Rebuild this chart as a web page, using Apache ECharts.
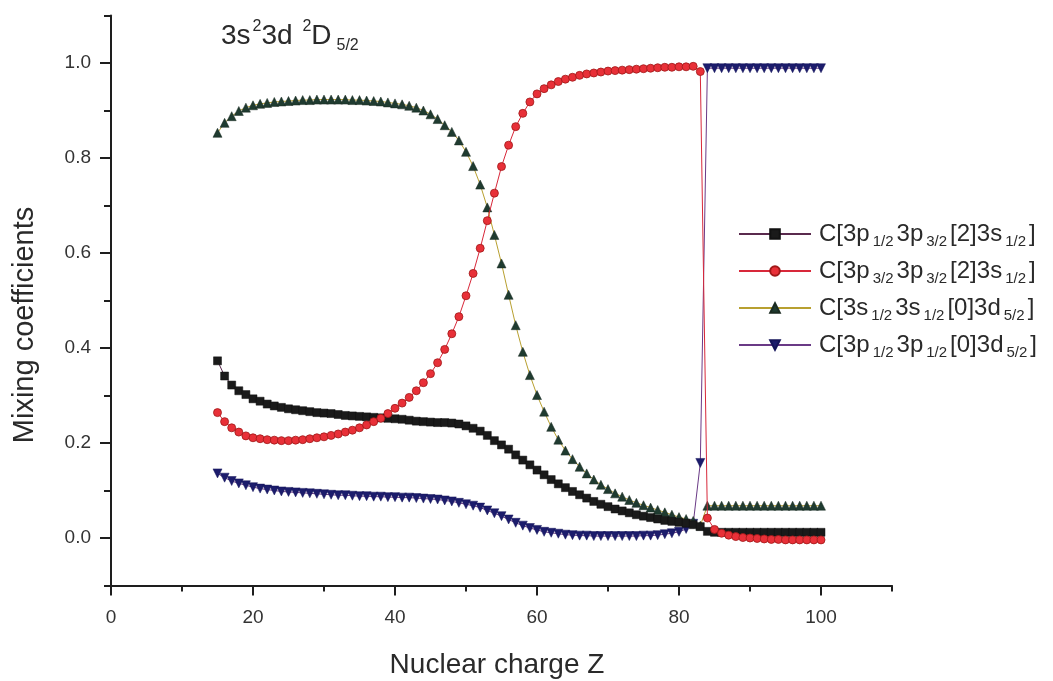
<!DOCTYPE html>
<html>
<head>
<meta charset="utf-8">
<script src="https://cdn.jsdelivr.net/npm/echarts@6/dist/echarts.min.js"></script>
<style>html,body{margin:0;padding:0;background:#fff;}#c{width:1053px;height:681px;}</style>
</head>
<body>
<div id="c"></div>
<script>
const Z = [15,16,17,18,19,20,21,22,23,24,25,26,27,28,29,30,31,32,33,34,35,36,37,38,39,40,41,42,43,44,45,46,47,48,49,50,51,52,53,54,55,56,57,58,59,60,61,62,63,64,65,66,67,68,69,70,71,72,73,74,75,76,77,78,79,80,81,82,83,84,85,86,87,88,89,90,91,92,93,94,95,96,97,98,99,100];

const sq = [0.373,0.341,0.322,0.310,0.302,0.293,0.288,0.282,0.278,0.275,0.272,0.270,0.268,0.266,0.264,0.263,0.262,0.260,0.258,0.257,0.256,0.255,0.254,0.253,0.252,0.251,0.250,0.248,0.246,0.245,0.244,0.243,0.243,0.242,0.240,0.236,0.231,0.225,0.216,0.205,0.196,0.187,0.175,0.164,0.154,0.143,0.133,0.123,0.114,0.106,0.098,0.091,0.084,0.077,0.071,0.066,0.061,0.057,0.053,0.049,0.046,0.043,0.040,0.037,0.035,0.033,0.031,0.028,0.024,0.014,0.012,0.012,0.012,0.012,0.012,0.012,0.012,0.012,0.012,0.012,0.012,0.012,0.012,0.012,0.012,0.012];

const circ = [0.264,0.245,0.232,0.223,0.215,0.211,0.209,0.207,0.206,0.205,0.205,0.206,0.207,0.209,0.211,0.213,0.216,0.219,0.223,0.227,0.232,0.238,0.245,0.252,0.262,0.273,0.284,0.296,0.310,0.327,0.346,0.369,0.397,0.430,0.466,0.510,0.557,0.610,0.668,0.726,0.782,0.827,0.866,0.894,0.918,0.935,0.946,0.954,0.961,0.966,0.970,0.974,0.977,0.979,0.981,0.983,0.984,0.985,0.986,0.987,0.988,0.989,0.990,0.991,0.991,0.992,0.992,0.993,0.982,0.042,0.018,0.010,0.006,0.003,0.001,0.000,-0.001,-0.002,-0.003,-0.003,-0.004,-0.004,-0.004,-0.004,-0.004,-0.004];

const tri = [0.853,0.874,0.888,0.899,0.906,0.911,0.914,0.916,0.918,0.919,0.920,0.921,0.922,0.922,0.923,0.923,0.923,0.923,0.923,0.922,0.922,0.921,0.920,0.919,0.917,0.915,0.913,0.910,0.906,0.900,0.892,0.882,0.869,0.855,0.837,0.813,0.783,0.744,0.696,0.638,0.578,0.512,0.448,0.392,0.343,0.301,0.266,0.234,0.207,0.184,0.166,0.150,0.136,0.123,0.112,0.103,0.094,0.087,0.080,0.074,0.069,0.064,0.059,0.054,0.049,0.044,0.040,0.036,0.026,0.068,0.068,0.068,0.068,0.068,0.068,0.068,0.068,0.068,0.068,0.068,0.068,0.068,0.068,0.068,0.068,0.068,0.068];

const triDown = [0.136,0.127,0.120,0.115,0.111,0.107,0.104,0.102,0.100,0.098,0.097,0.096,0.095,0.094,0.093,0.092,0.091,0.090,0.090,0.089,0.088,0.088,0.087,0.087,0.086,0.086,0.085,0.085,0.084,0.083,0.082,0.081,0.079,0.077,0.074,0.071,0.068,0.064,0.058,0.052,0.046,0.039,0.032,0.026,0.021,0.017,0.013,0.011,0.009,0.007,0.006,0.005,0.005,0.004,0.004,0.004,0.004,0.004,0.004,0.004,0.005,0.005,0.006,0.008,0.010,0.013,0.019,0.030,0.158,0.989,0.989,0.989,0.989,0.989,0.989,0.989,0.989,0.989,0.989,0.989,0.989,0.989,0.989,0.989,0.989,0.989,0.989];

const xMajor = [0, 20, 40, 60, 80, 100];
const xMinor = [10, 30, 50, 70, 90, 110];
const yMajor = [0, 0.2, 0.4, 0.6, 0.8, 1.0];
const yMinor = [-0.1, 0.1, 0.3, 0.5, 0.7, 0.9, 1.1];

const names = ['s1','s2','s3','s4'];
const legendRich = {
  s1: '{m|C[3p}{b|1/2}{m|3p}{b|3/2}{m|[2]3s}{b|1/2}{m|]}',
  s2: '{m|C[3p}{b|3/2}{m|3p}{b|3/2}{m|[2]3s}{b|1/2}{m|]}',
  s3: '{m|C[3s}{b|1/2}{m|3s}{b|1/2}{m|[0]3d}{b|5/2}{m|]}',
  s4: '{m|C[3p}{b|1/2}{m|3p}{b|1/2}{m|[0]3d}{b|5/2}{m|]}'
};

const FONT = '"Liberation Sans", Arial, Helvetica, sans-serif';
const TXT = '#2a2a2a';

function pairs(vals) { return Z.map((z, i) => [z, vals[i]]); }

const chart = echarts.init(document.getElementById('c'), null, {renderer: 'canvas'});
chart.setOption({
  backgroundColor: '#fff',
  animation: false,
  textStyle: {fontFamily: FONT},
  title: {
    text: '{a|3s}{p|2}{a|3d }{p|2}{a|D}{b|5/2}',
    left: 221, top: 18, padding: 0,
    textStyle: {
      fontFamily: FONT, fontWeight: 'normal',
      rich: {
        a: {fontSize: 28, color: TXT, fontFamily: FONT, fontWeight: 'normal'},
        p: {fontSize: 16, color: TXT, fontFamily: FONT, fontWeight: 'normal', padding: [0, 0, 18, 2]},
        b: {fontSize: 16, color: TXT, fontFamily: FONT, fontWeight: 'normal', padding: [20, 0, 0, 5]}
      }
    }
  },
  graphic: [
    {type: 'text', x: 497, y: 665, style: {text: 'Nuclear charge Z', font: '28px ' + FONT, fill: TXT, align: 'center', verticalAlign: 'middle'}},
    {type: 'text', x: 25, y: 325, rotation: Math.PI / 2, style: {text: 'Mixing coefficients', font: '29px ' + FONT, fill: TXT, align: 'center', verticalAlign: 'middle'}}
  ],
  grid: {left: 111, right: 161, top: 15.5, bottom: 95.5, containLabel: false},
  legend: {
    orient: 'vertical',
    left: 738, top: 222, padding: 0,
    itemWidth: 72, itemHeight: 12,
    itemGap: 10,
    data: names,
    formatter: n => legendRich[n],
    textStyle: {
      fontFamily: FONT,
      rich: {
        m: {fontSize: 24, color: TXT, fontFamily: FONT, padding: [0, 0, 0, 3]},
        b: {fontSize: 15, color: TXT, fontFamily: FONT, padding: [15, 0, 0, 3]}
      }
    }
  },
  xAxis: [{
    type: 'value', min: 0, max: 110,
    axisLine: {onZero: false, lineStyle: {color: '#1e1e1e', width: 2}},
    axisTick: {show: true, inside: false, length: 10, customValues: xMajor, lineStyle: {color: '#1e1e1e', width: 2}},
    axisLabel: {margin: 23, fontSize: 19, color: '#333', fontFamily: FONT, customValues: xMajor},
    splitLine: {show: false}
  }, {
    type: 'value', min: 0, max: 110, position: 'bottom',
    axisLine: {show: false, onZero: false},
    axisTick: {show: true, inside: false, length: 6, customValues: xMinor, lineStyle: {color: '#1e1e1e', width: 2}},
    axisLabel: {show: false},
    splitLine: {show: false}
  }],
  yAxis: [{
    type: 'value', min: -0.1, max: 1.1,
    axisLine: {show: true, onZero: false, lineStyle: {color: '#1e1e1e', width: 2}},
    axisTick: {show: true, inside: false, length: 11, customValues: yMajor, lineStyle: {color: '#1e1e1e', width: 2}},
    axisLabel: {margin: 20, fontSize: 19, color: '#333', fontFamily: FONT, customValues: yMajor,
      formatter: v => v.toFixed(1)},
    splitLine: {show: false}
  }, {
    type: 'value', min: -0.1, max: 1.1, position: 'left', offset: 0,
    axisLine: {show: false, onZero: false},
    axisTick: {show: true, inside: false, length: 7, customValues: yMinor, lineStyle: {color: '#1e1e1e', width: 2}},
    axisLabel: {show: false},
    splitLine: {show: false}
  }],
  series: [
    {name: 's1', type: 'line', data: pairs(sq), symbol: 'rect', symbolSize: 8,
     lineStyle: {color: '#5a2a4e', width: 1}, itemStyle: {color: '#1a1a1a', borderColor: '#111', borderWidth: 0.5}, z: 3},
    {name: 's2', type: 'line', data: pairs(circ), symbol: 'circle', symbolSize: 8,
     lineStyle: {color: '#d8283a', width: 1}, itemStyle: {color: '#e83038', borderColor: '#a01818', borderWidth: 0.8}, z: 4},
    {name: 's3', type: 'line', data: pairs(tri), symbol: 'triangle', symbolSize: 9,
     lineStyle: {color: '#b8a030', width: 1}, itemStyle: {color: '#1f3b30', borderColor: '#1a2a20', borderWidth: 0.5}, z: 2},
    {name: 's4', type: 'line', data: pairs(triDown), symbol: 'triangle', symbolRotate: 180, symbolSize: 9,
     lineStyle: {color: '#6a3a86', width: 1}, itemStyle: {color: '#1c1c6c', borderColor: '#14145a', borderWidth: 0.5}, z: 1}
  ]
});
</script>
</body>
</html>
